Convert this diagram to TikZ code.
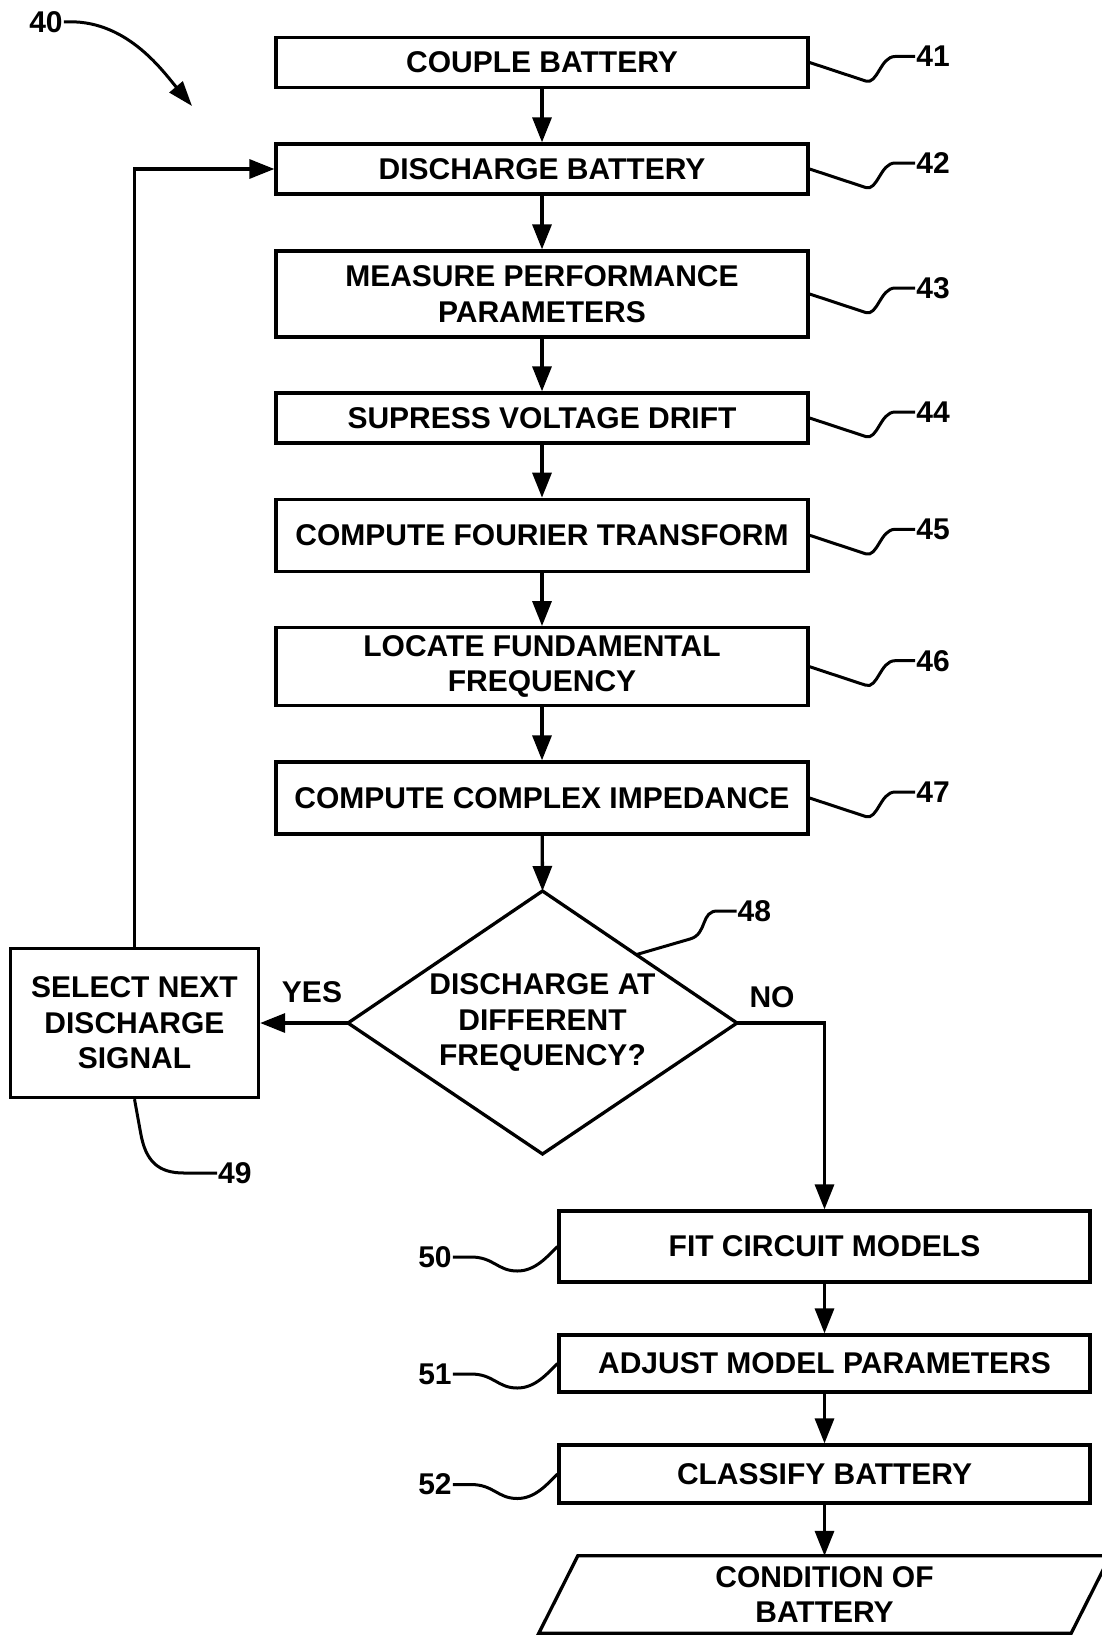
\documentclass[tikz,border=0pt]{standalone}
\usepackage{fontspec}
\setmainfont{Liberation Sans}
\usetikzlibrary{arrows.meta,calc}

\tikzset{
  stepbox/.style={draw, line width=3.3pt, inner sep=0pt, align=center,
    font=\fontsize{30}{35.5}\selectfont\bfseries},
  plaintext/.style={inner sep=0pt, align=center,
    font=\fontsize{30}{35.5}\selectfont\bfseries},
  reflabel/.style={inner sep=1pt, font=\fontsize{30}{32}\selectfont\bfseries},
  outline/.style={line width=3.3pt, line join=miter},
  flow/.style={line width=3.3pt, -{Triangle[length=25pt,width=19pt]}},
  leader/.style={line width=3pt},
}

\begin{document}
\begin{tikzpicture}[x=1pt,y=-1pt]
\useasboundingbox (0,0) rectangle (1102,1635);
\clip (0,0) rectangle (1102,1635);

% main column of process steps
\node[stepbox, minimum width=532pt, minimum height=50pt] (b41) at (542,62.5) {COUPLE BATTERY};
\node[stepbox, minimum width=532pt, minimum height=50pt] (b42) at (542,169) {DISCHARGE BATTERY};
\node[stepbox, minimum width=532pt, minimum height=86pt] (b43) at (542,294) {MEASURE PERFORMANCE\\PARAMETERS};
\node[stepbox, minimum width=532pt, minimum height=50pt] (b44) at (542,418) {SUPRESS VOLTAGE DRIFT};
\node[stepbox, minimum width=532pt, minimum height=72pt] (b45) at (542,535.3) {COMPUTE FOURIER TRANSFORM};
\node[stepbox, minimum width=532pt, minimum height=78pt] (b46) at (542,666.7) {LOCATE FUNDAMENTAL\\FREQUENCY};
\node[stepbox, minimum width=532pt, minimum height=72pt] (b47) at (542,798) {COMPUTE COMPLEX IMPEDANCE};

% decision
\coordinate (dtop) at (542.5,891);
\coordinate (dright) at (737,1023);
\coordinate (dbot) at (542.5,1154);
\coordinate (dleft) at (348,1023);
\draw[outline] (dtop) -- (dright) -- (dbot) -- (dleft) -- cycle;
\node[plaintext] (dec) at (542.5,1022.5) {DISCHARGE AT\\DIFFERENT\\FREQUENCY?};

% loop-back step
\node[stepbox, minimum width=248pt, minimum height=149pt] (sel) at (134.5,1023) {SELECT NEXT\\DISCHARGE\\SIGNAL};

% right-hand column
\node[stepbox, minimum width=531pt, minimum height=71pt] (b50) at (824.5,1246.5) {FIT CIRCUIT MODELS};
\node[stepbox, minimum width=531pt, minimum height=57pt] (b51) at (824.5,1363.5) {ADJUST MODEL PARAMETERS};
\node[stepbox, minimum width=531pt, minimum height=58pt] (b52) at (824.5,1474) {CLASSIFY BATTERY};

% output parallelogram
\node[plaintext, minimum width=493pt, minimum height=77pt] (cond) at (824.5,1594.5) {CONDITION OF\\BATTERY};
\draw[outline] ($(cond.south west)+(-39,0)$) -- (cond.north west)
  -- ($(cond.north east)+(39,0)$) -- (cond.south east) -- cycle;

% flow connectors
\draw[flow] (b41) -- (b42);
\draw[flow] (b42) -- (b43);
\draw[flow] (b43) -- (b44);
\draw[flow] (b44) -- (b45);
\draw[flow] (b45) -- (b46);
\draw[flow] (b46) -- (b47);
\draw[flow] (b47) -- (dtop);
\draw[flow] (dleft) -- (sel.east);
\draw[flow] (sel.north) |- (b42.west);
\draw[flow] (dright) -| (b50.north);
\draw[flow] (b50) -- (b51);
\draw[flow] (b51) -- (b52);
\draw[flow] (b52.south) -- (cond.north);

% branch labels
\node[reflabel] (yes) at (312,992) {YES};
\node[reflabel] (no) at (772,997) {NO};

% reference numerals on the right of the main column
\foreach \b/\n in {b41/41,b42/42,b43/43,b44/44,b45/45,b46/46,b47/47}{
  \node[reflabel, anchor=west] (lab\n) at ($(\b.east)+(105.5,-6)$) {\n};
  \draw[leader] (\b.east) -- ++(56,18.5) .. controls +(12,4) and +(-15,0)
    .. ($(lab\n.west)+(-20,0)$) -- (lab\n.west);
}

% numeral of the decision
\node[reflabel, anchor=west] (lab48) at (736.5,911) {48};
\draw[leader] ($(dtop)!0.482!(dright)$) -- (690,939)
  .. controls (708,934) and (700,910) .. ($(lab48.west)+(-18,0)$) -- (lab48.west);

% numeral of the loop-back step
\node[reflabel, anchor=west] (lab49) at (217,1173) {49};
\draw[leader] (sel.south) -- ++(6,33) .. controls +(5,30) and +(-25,0)
  .. ($(lab49.west)+(-33,0)$) -- (lab49.west);

% numerals on the left of the lower column
\foreach \b/\n in {b50/50,b51/51,b52/52}{
  \node[reflabel, anchor=east] (lab\n) at ($(\b.west)+(-104.5,10.5)$) {\n};
  \draw[leader] (\b.west) .. controls +(-10,10) and +(18,0) .. ++(-40,24.5)
    .. controls +(-20,0) and +(23,0) .. ($(lab\n.east)+(18,0)$) -- (lab\n.east);
}

% figure numeral
\node[reflabel] (lab40) at (46,22) {40};
\draw[leader, -{Triangle[length=25pt,width=17pt]}] (lab40.east)
  .. controls (125,18) and (162,70) .. (192,106);
\end{tikzpicture}
\end{document}
